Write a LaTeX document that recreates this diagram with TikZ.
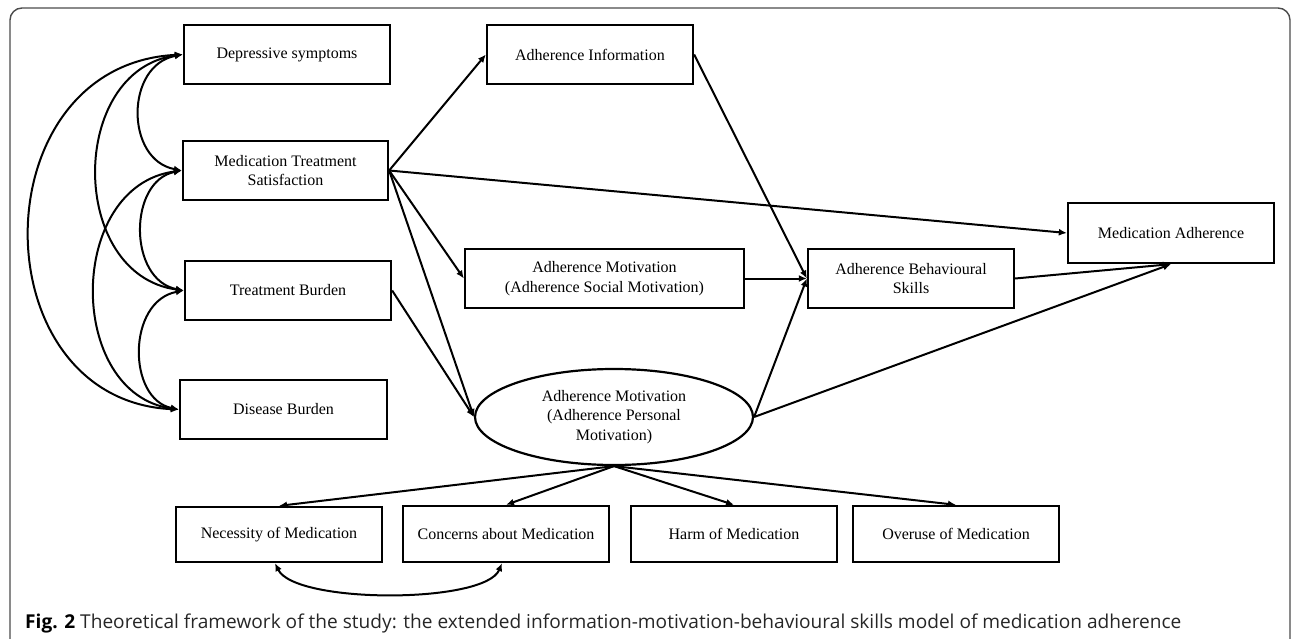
\documentclass[tikz,border=0pt]{standalone}
\usepackage{fontspec}
\setmainfont{Liberation Serif}
\newfontfamily\capfont{Open Sans}
\usetikzlibrary{arrows.meta,shapes.geometric}
\begin{document}
\begin{tikzpicture}[x=1pt,y=1pt,
  box/.style={draw,line width=2.3pt,minimum width=206pt,minimum height=59pt,inner sep=2pt,align=center,font=\fontsize{16}{19.5}\selectfont},
  ell/.style={draw,ellipse,line width=2.2pt,minimum width=278pt,minimum height=96pt,inner sep=0pt,align=center,font=\fontsize{16}{19.5}\selectfont},
  conn/.style={line width=2pt,-{Latex[length=8pt,width=7pt]}},
  dconn/.style={line width=2pt,{Latex[length=8pt,width=7pt]}-{Latex[length=8pt,width=7pt]}}]
\useasboundingbox (0,0) rectangle (1292,-639);
\draw[line width=1.4pt,black!70,rounded corners=12pt] (10,-660) -- (10,-8) -- (1290,-8) -- (1290,-660);
% left column
\node[box] (ds) at (287,-54.5) {Depressive symptoms};
\node[box,minimum width=205pt] (mts) at (285.5,-170.5) {Medication Treatment\\Satisfaction};
\node[box] (tb) at (288,-290.5) {Treatment Burden};
\node[box,minimum width=207pt] (db) at (283.5,-409.5) {Disease Burden};
% middle
\node[box] (ai) at (590,-54.5) {Adherence Information};
\node[box,minimum width=279pt] (sm) at (604.5,-278.5) {Adherence Motivation\\(Adherence Social Motivation)};
\node[ell] (pm) at (614,-417) {Adherence Motivation\\(Adherence Personal\\Motivation)};
\node[box] (abs) at (911,-278.5) {Adherence Behavioural\\Skills};
\node[box,minimum height=60pt] (ma) at (1171,-233) {Medication Adherence};
% bottom row
\node[box,minimum height=55pt] (nm) at (279,-534.5) {Necessity of Medication};
\node[box,minimum height=56pt] (cm) at (506,-534) {Concerns about Medication};
\node[box,minimum height=56pt] (hm) at (734,-534) {Harm of Medication};
\node[box,minimum height=56pt] (om) at (956,-534) {Overuse of Medication};
% paths
\draw[conn] (mts.east) -- (ai.west);
\draw[conn] (mts.east) -- (ma.west);
\draw[conn] (mts.east) -- (sm.west);
\draw[conn] (mts.east) -- (pm.west);
\draw[conn] (tb.east) -- (pm.west);
\draw[conn] (ai.east) -- (abs.west);
\draw[conn] (sm.east) -- (abs.west);
\draw[conn] (pm.east) -- (abs.west);
\draw[conn] (abs.east) -- (ma.south);
\draw[conn] (pm.east) -- (ma.south);
\draw[conn] (pm.south) -- (nm.north);
\draw[conn] (pm.south) -- (cm.north);
\draw[conn] (pm.south) -- (hm.north);
\draw[conn] (pm.south) -- (om.north);
\draw[dconn] ([xshift=-4pt]nm.south) .. controls (295,-604) and (485,-604) .. ([xshift=-4pt]cm.south);
% covariances on the left
\draw[dconn] (ds.west) .. controls (125,-65) and (125,-160) .. (mts.west);
\draw[dconn] (mts.west) .. controls (128,-181) and (128,-280) .. (tb.west);
\draw[dconn] (tb.west) .. controls (127,-301) and (127,-399) .. (db.west);
\draw[dconn] (ds.west) .. controls (68,-70) and (68,-275) .. (tb.west);
\draw[dconn] (mts.west) .. controls (66,-186) and (66,-394) .. (db.west);
\draw[dconn] (ds.west) .. controls (-21,-65) and (-21,-400) .. (db.west);
% caption
\node[anchor=base west,inner sep=0pt,font=\capfont\fontsize{19.1}{22}\selectfont,text=black!85] (cap) at (25,-628) {\textbf{\textcolor{black}{Fig. 2}} Theoretical framework of the study: the extended information-motivation-behavioural skills model of medication adherence};
\end{tikzpicture}
\end{document}
